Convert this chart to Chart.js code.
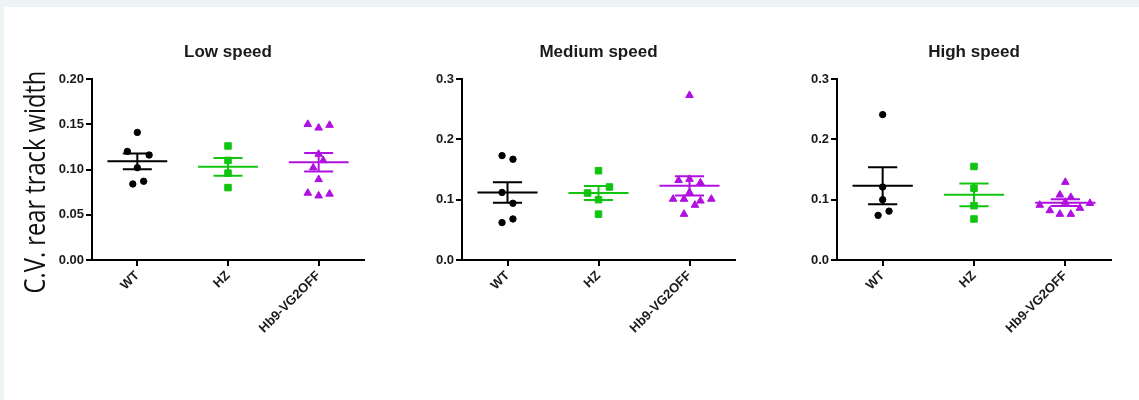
<!DOCTYPE html>
<html>
<head>
<meta charset="utf-8">
<title>C.V. rear track width</title>
<script src="https://cdn.jsdelivr.net/npm/chart.js@4.4.1/dist/chart.umd.min.js"></script>
<style>
  html, body { margin: 0; padding: 0; }
  body { width: 1139px; height: 400px; background: #eef3f3; position: relative; overflow: hidden; }
  #sheet { position: absolute; left: 4px; top: 7px; right: 0; bottom: 0; background: #fff; }
  canvas { position: absolute; top: 0; }
</style>
</head>
<body>
<div id="sheet"></div>
<canvas id="lowChart" width="360" height="400" style="left:10px"></canvas>
<canvas id="mediumChart" width="311" height="400" style="left:430px"></canvas>
<canvas id="highChart" width="312" height="400" style="left:805px"></canvas>
<script>
var groups = ['WT', 'HZ', 'Hb9-VG2OFF'];
var yAxisTitle = 'C.V. rear track width';

// Low speed
var lowWT = [0.141, 0.120, 0.116, 0.102, 0.084, 0.087];
var lowHZ = [0.126, 0.110, 0.096, 0.080];
var lowHb9 = [0.150, 0.146, 0.149, 0.117, 0.110, 0.102, 0.089, 0.074, 0.071, 0.073];
var lowMean = [0.109, 0.103, 0.108];
var lowSem = [0.0087, 0.0098, 0.0103];

// Medium speed
var mediumWT = [0.173, 0.167, 0.112, 0.094, 0.062, 0.068];
var mediumHZ = [0.148, 0.121, 0.111, 0.100, 0.076];
var mediumHb9 = [0.273, 0.132, 0.134, 0.128, 0.112, 0.101, 0.101, 0.091, 0.098, 0.101, 0.076];
var mediumMean = [0.112, 0.111, 0.123];
var mediumSem = [0.017, 0.0115, 0.016];

// High speed
var highWT = [0.241, 0.121, 0.100, 0.074, 0.081];
var highHZ = [0.155, 0.119, 0.090, 0.068];
var highHb9 = [0.129, 0.108, 0.104, 0.096, 0.091, 0.094, 0.086, 0.082, 0.076, 0.076];
var highMean = [0.123, 0.108, 0.095];
var highSem = [0.0306, 0.0188, 0.0055];

// sideways spread of the dots, in category widths (same order as the values)
var lowSpread = [
    [0, -0.11, 0.13, 0, -0.05, 0.07],
    [0, 0, 0, 0],
    [-0.12, 0, 0.12, 0, 0.05, -0.06, 0, -0.12, 0, 0.12]
];
var mediumSpread = [
    [-0.06, 0.06, -0.06, 0.06, -0.06, 0.06],
    [0, 0.12, -0.12, 0, 0],
    [0, -0.12, 0, 0.12, 0, -0.18, -0.06, 0.06, 0.12, 0.24, -0.06]
];
var highSpread = [
    [0, 0, 0, -0.05, 0.07],
    [0, 0, 0, 0],
    [0, -0.06, 0.06, 0, -0.28, 0.27, 0.16, -0.17, -0.06, 0.06]
];

var colors = ['#000000', '#10c410', '#b010e0'];
var shapes = ['circle', 'rect', 'triangle'];
var radii = [3.2, 4.6, 4.4];

Chart.defaults.font.family = 'Liberation Sans, Arial, sans-serif';
Chart.defaults.color = '#1a1a1a';

var tickFont = { size: 13, weight: 'bold' };

//Tall, narrow y axis title of the first panel, drawn on the chart canvas
var yTitlePlugin = {
    id: 'yTitle',
    afterDraw: function (chart, args, opts) {
        var ctx = chart.ctx;
        ctx.save();
        ctx.translate(opts.x, opts.y);
        ctx.rotate(-Math.PI / 2);
        ctx.scale(opts.squeeze, 1);
        ctx.font = opts.size + 'px "Open Sans"';
        ctx.fillStyle = opts.color;
        ctx.textAlign = 'center';
        ctx.textBaseline = 'alphabetic';
        ctx.fillText(opts.text, 0, 0);
        ctx.restore();
    }
};

//mean line, the two SEM caps and the stem, split by gaps
function errorBar(i, mean, sem) {
    return [
        { x: i - 0.33, y: mean }, { x: i + 0.33, y: mean }, { x: i, y: null },
        { x: i - 0.16, y: mean + sem }, { x: i + 0.16, y: mean + sem }, { x: i, y: null },
        { x: i - 0.16, y: mean - sem }, { x: i + 0.16, y: mean - sem }, { x: i, y: null },
        { x: i, y: mean + sem }, { x: i, y: mean - sem }
    ];
}

function makeChart(id, title, values, spread, means, sems, yMax, yStep, decimals, yWidth, withTitle) {
    var datasets = [];
    for (var i = 0; i < groups.length; i++) {
        datasets.push({
            data: errorBar(i, means[i], sems[i]),
            showLine: true,
            spanGaps: false,
            borderColor: colors[i],
            borderWidth: 2,
            pointRadius: 0,
            order: 0
        });
        var pts = [];
        for (var k = 0; k < values[i].length; k++) {
            pts.push({ x: i + spread[i][k], y: values[i][k] });
        }
        datasets.push({
            data: pts,
            pointStyle: shapes[i],
            pointRadius: radii[i],
            backgroundColor: colors[i],
            borderColor: colors[i],
            borderWidth: 1,
            order: 1
        });
    }

    return new Chart(document.getElementById(id), {
        type: 'scatter',
        data: { datasets: datasets },
        plugins: withTitle ? [yTitlePlugin] : [],
        options: {
            responsive: false,
            animation: false,
            events: [],
            layout: { padding: { left: 0, right: 6, top: 0, bottom: 0 } },
            plugins: {
                legend: { display: false },
                tooltip: { enabled: false },
                title: {
                    display: true,
                    fullSize: false,
                    text: title,
                    color: '#1a1a1a',
                    font: { size: 17, weight: 'bold' },
                    padding: { top: 42, bottom: 16.6 }
                },
                yTitle: { text: yAxisTitle, x: 35, y: 182, size: 30, squeeze: 0.79, color: '#111' }
            },
            scales: {
                x: {
                    type: 'linear',
                    min: -0.5,
                    max: 2.5,
                    afterBuildTicks: function (axis) {
                        axis.ticks = groups.map(function (g, n) { return { value: n }; });
                    },
                    afterFit: function (axis) { axis.height = 140; },
                    border: { color: '#000', width: 2 },
                    grid: { drawOnChartArea: false, color: '#000', lineWidth: 2, tickLength: 6 },
                    ticks: {
                        minRotation: 45,
                        maxRotation: 45,
                        padding: 2,
                        font: tickFont,
                        callback: function (v) { return groups[v]; }
                    }
                },
                y: {
                    min: 0,
                    max: yMax,
                    afterFit: function (axis) { axis.width = yWidth; },
                    border: { color: '#000', width: 2 },
                    grid: { drawOnChartArea: false, color: '#000', lineWidth: 2, tickLength: 6 },
                    ticks: {
                        stepSize: yStep,
                        padding: 2,
                        font: tickFont,
                        callback: function (v) { return v.toFixed(decimals); }
                    }
                }
            }
        }
    });
}

var lowChart = makeChart('lowChart', 'Low speed', [lowWT, lowHZ, lowHb9], lowSpread,
    lowMean, lowSem, 0.2, 0.05, 2, 82, true);
var mediumChart = makeChart('mediumChart', 'Medium speed', [mediumWT, mediumHZ, mediumHb9], mediumSpread,
    mediumMean, mediumSem, 0.3, 0.1, 1, 32, false);
var highChart = makeChart('highChart', 'High speed', [highWT, highHZ, highHb9], highSpread,
    highMean, highSem, 0.3, 0.1, 1, 32, false);
</script>
</body>
</html>
